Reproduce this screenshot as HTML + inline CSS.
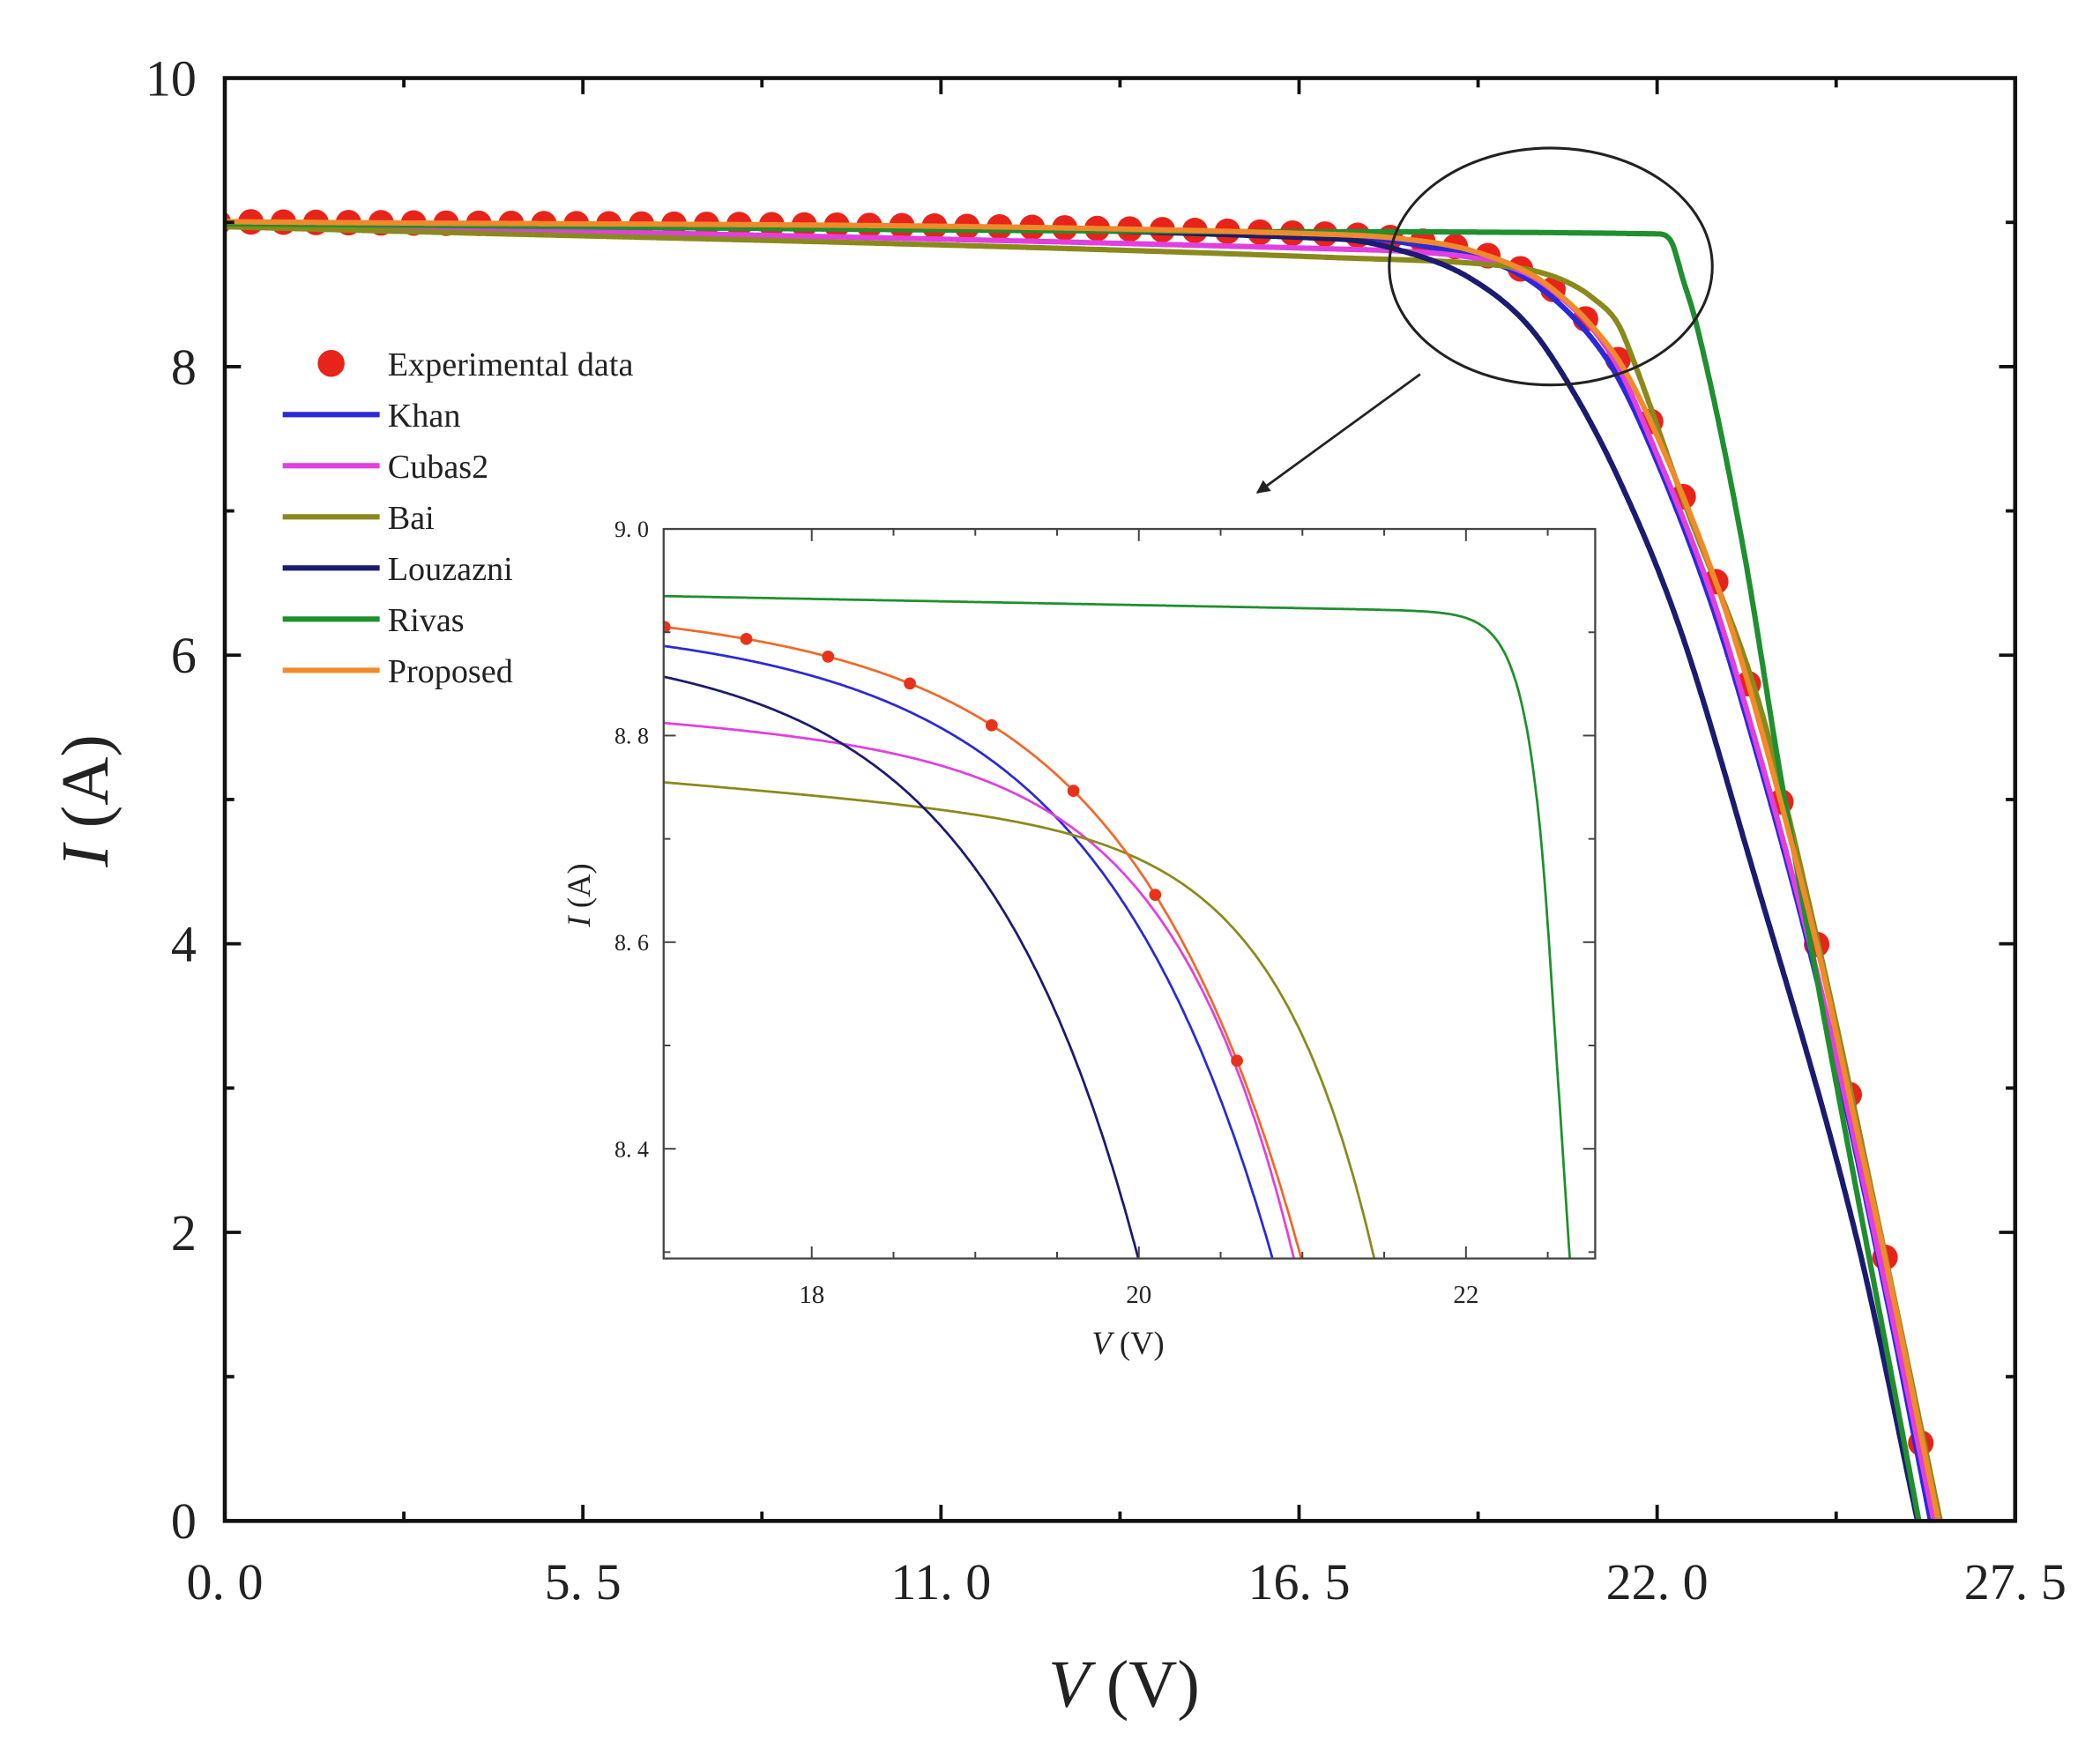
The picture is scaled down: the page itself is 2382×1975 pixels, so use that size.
<!DOCTYPE html>
<html><head><meta charset="utf-8"><style>
html,body{margin:0;padding:0;background:#fff;}
svg{display:block;}
text{font-family:"Liberation Serif","Noto Serif CJK SC",serif;fill:#222;}
</style></head><body>
<svg id="s" xmlns="http://www.w3.org/2000/svg" width="2382" height="1975" viewBox="0 0 1560 1293.5" preserveAspectRatio="none">
<defs>
<clipPath id="mc"><rect x="167" y="58" width="1330" height="1072"/></clipPath>
<clipPath id="ic"><rect x="493" y="393" width="692" height="542"/></clipPath>
<marker id="ah" markerWidth="10" markerHeight="10" refX="9" refY="5" orient="auto" markerUnits="userSpaceOnUse"><path d="M0,0 L10,5 L0,10 z" fill="#222"/></marker>
</defs>
<rect x="0" y="0" width="1560" height="1293.5" fill="#fff"/>
<g id="main" clip-path="url(#mc)"></g>
<g id="mticks" stroke="#111" stroke-width="2.5"></g>
<rect x="167" y="58" width="1330" height="1072" fill="none" stroke="#111" stroke-width="3"/>
<ellipse cx="1152" cy="198" rx="120" ry="88" fill="none" stroke="#222" stroke-width="2"/>
<line x1="1055" y1="278" x2="934" y2="366" stroke="#222" stroke-width="1.8" marker-end="url(#ah)"/>
<rect x="493" y="393" width="692" height="542" fill="#fff"/>
<g id="inset" clip-path="url(#ic)"></g>
<g id="iticks" stroke="#444" stroke-width="1.3"></g>
<rect x="493" y="393" width="692" height="542" fill="none" stroke="#444" stroke-width="1.5"/>
<g id="labels"></g>
<g id="legend"></g>
</svg>
<script>
var NS="http://www.w3.org/2000/svg";
function el(p,t,a,txt){var e=document.createElementNS(NS,t);for(var k in a)e.setAttribute(k,a[k]);if(txt!==undefined)e.textContent=txt;document.getElementById(p).appendChild(e);return e;}
function mono(pts){var n=pts.length,x=pts.map(function(p){return p[0]}),y=pts.map(function(p){return p[1]}),d=[],m=[];
 for(var i=0;i<n-1;i++)d.push((y[i+1]-y[i])/(x[i+1]-x[i]));
 m[0]=d[0];m[n-1]=d[n-2];for(var i=1;i<n-1;i++){m[i]=(d[i-1]*d[i]<=0)?0:(d[i-1]+d[i])/2;}
 for(var i=0;i<n-1;i++){if(d[i]==0){m[i]=m[i+1]=0;continue;}var a=m[i]/d[i],b=m[i+1]/d[i],s=a*a+b*b;if(s>9){var t=3/Math.sqrt(s);m[i]=t*a*d[i];m[i+1]=t*b*d[i];}}
 return function(v){if(v<=x[0])return y[0];if(v>=x[n-1])return y[n-1]+m[n-1]*(v-x[n-1]);var i=0;while(v>x[i+1])i++;
  var h=x[i+1]-x[i],t=(v-x[i])/h,t2=t*t,t3=t2*t;return (2*t3-3*t2+1)*y[i]+(t3-2*t2+t)*h*m[i]+(-2*t3+3*t2)*y[i+1]+(t3-t2)*h*m[i+1];};}
var C=[
 {n:"Khan",c:"#2a2ad8",I1:8.905,k:0.005,A:0.19,V1:19.6,m:1.07,s:1.8,
  K:[[0,9.0],[17.1,8.905],[18.1,8.86],[19.6,8.7],[20.1,8.58],[20.8,8.3],[21.3,8.0],[21.8,7.55],[22.8,6.4],[23.35,5.6],[24.4,3.85],[25.5,1.6],[26.2,0]]},
 {n:"Cubas2",c:"#e040e0",I1:8.815,k:0.01,A:0.08,V1:19.6,m:0.75,s:1.7,
  K:[[0,8.99],[17.1,8.815],[18.1,8.80],[19.1,8.76],[19.6,8.71],[20.1,8.62],[20.6,8.45],[20.95,8.295],[21.4,8.0],[21.85,7.55],[22.85,6.4],[23.35,5.66],[24.4,3.9],[25.5,1.65],[26.25,0]]},
 {n:"Bai",c:"#8a8a1c",I1:8.755,k:0.013,A:0.1,V1:20.6,m:0.6,s:1.85,
  K:[[0,8.97],[17.1,8.755],[19.6,8.70],[20.1,8.665],[20.6,8.59],[21.0,8.48],[21.4,8.295],[21.63,8.05],[22.39,7.09],[23.57,5.66],[24.5,3.95],[25.5,1.85],[26.35,0]]},
 {n:"Louzazni",c:"#1b1b70",I1:8.885,k:0.005,A:0.08,V1:18.1,m:0.96,s:1.45,
  K:[[0,9.0],[17.1,8.885],[18.1,8.80],[19.1,8.62],[20.0,8.295],[20.6,7.91],[21.36,7.27],[22.33,6.21],[23.4,4.62],[25.08,1.93],[26.0,0]]},
 {n:"Rivas",c:"#1f8f2f",I1:8.935,k:0.003,A:0.03,V1:22.2,m:0.13,s:2.4,
  K:[[0,8.99],[17.1,8.935],[22.0,8.92],[22.2,8.88],[22.4,8.6],[22.6,8.3],[23.3,6.8],[23.92,5.1],[26.02,0]]},
 {n:"Proposed",c:"#f08a2a",I1:8.92,k:0.005,A:0.1,V1:19.1,m:1.05,s:1.75,
  K:[[0,9.005],[17.1,8.915],[18.1,8.885],[19.1,8.81],[20.1,8.63],[20.6,8.46],[20.92,8.32],[21.44,8.02],[21.94,7.58],[22.97,6.42],[23.49,5.66],[24.5,3.9],[25.0,2.85],[25.55,1.72],[26.05,0.6],[26.32,0]]}
];
C.forEach(function(p){
 var e=(p.s-p.k)*p.m/p.A; p.Vt=p.V1+p.m*Math.log(e);
 p.f=function(V){return p.I1-p.k*(V-17.1)-p.A*Math.exp((V-p.V1)/p.m);};
 p.It=p.f(p.Vt); p.g=mono(p.K);
});
function I(p,V){return V<p.Vt?p.f(V):p.It-p.s*(V-p.Vt);}
var P=C[5];
function MX(V){return 167+V*48.364;} function MY(i){return 1130-i*107.2;}
function IX(V){return 603+(V-18)*121.5;} function IY(i){return 393+(9-i)*767.5;}
// main dots
var dv=[];for(var v=-0.1;v<=23.95;v+=0.5)dv.push(v);dv=dv.concat([24.45,24.95,25.5,26.05]);
dv.forEach(function(v){var i=v<=0?9.0:P.g(v);if(v>=26)i=0.54;el("main","circle",{cx:MX(v),cy:MY(i),r:9.5,fill:"#e8231a"});});
C.forEach(function(p){var d="";for(var v=0;v<=27;v+=0.02){var i=p.g(v);d+=(d?"L":"M")+MX(v).toFixed(1)+","+MY(i).toFixed(1);if(i<-0.2)break;}
 el("main","path",{d:d,fill:"none",stroke:p.c,"stroke-width":4});});
// inset
C.forEach(function(p){var d="";for(var v=17;v<=23;v+=0.005){var i=I(p,v);d+=(d?"L":"M")+IX(v).toFixed(1)+","+IY(i).toFixed(1);if(i<8.2)break;}
 el("inset","path",{d:d,fill:"none",stroke:p.n=="Proposed"?"#ee6a2a":p.c,"stroke-width":1.8});});
[17.1,17.6,18.1,18.6,19.1,19.6,20.1,20.6].forEach(function(v){el("inset","circle",{cx:IX(v),cy:IY(I(P,v)),r:4.5,fill:"#e8331a"});});
// main ticks
for(var j=0;j<=10;j++){var V=j*2.75,x=MX(V),L=j%2==0?12:7;
 el("mticks","line",{x1:x,y1:1130,x2:x,y2:1130-L});el("mticks","line",{x1:x,y1:58,x2:x,y2:58+L});}
for(var j=0;j<=10;j++){var y=MY(j),L=j%2==0?12:7;
 el("mticks","line",{x1:167,y1:y,x2:167+L,y2:y});el("mticks","line",{x1:1497,y1:y,x2:1497-L,y2:y});}
["0. 0","5. 5","11. 0","16. 5","22. 0","27. 5"].forEach(function(t,j){el("labels","text",{x:MX(j*5.5),y:1188,"font-size":38,"text-anchor":"middle"},t);});
[0,2,4,6,8,10].forEach(function(t){el("labels","text",{x:146,y:MY(t)+13,"font-size":38,"text-anchor":"end"},t);});
var t1=el("labels","text",{x:835,y:1268,"font-size":50,"text-anchor":"middle"});
t1.innerHTML='<tspan font-style="italic">V</tspan> (V)';
var t2=el("labels","text",{x:0,y:0,"font-size":50,"text-anchor":"middle",transform:"translate(80,595) rotate(-90)"});
t2.innerHTML='<tspan font-style="italic">I</tspan> (A)';
// inset ticks
for(var v=18;v<=22.6;v+=0.5){var x=IX(v),L=(Math.abs(v-Math.round(v))<0.01&&Math.round(v)%2==0)?9:5;
 el("iticks","line",{x1:x,y1:935,x2:x,y2:935-L});el("iticks","line",{x1:x,y1:393,x2:x,y2:393+L});}
for(var i=8.3;i<=9.001;i+=0.1){var y=IY(i),L=(Math.round(i*10)%2==0)?9:5;
 el("iticks","line",{x1:493,y1:y,x2:493+L,y2:y});el("iticks","line",{x1:1185,y1:y,x2:1185-L,y2:y});}
[["9. 0",9],["8. 8",8.8],["8. 6",8.6],["8. 4",8.4]].forEach(function(a){el("labels","text",{x:482,y:IY(a[1])+6,"font-size":17,"text-anchor":"end",fill:"#555"},a[0]);});
[18,20,22].forEach(function(v){el("labels","text",{x:IX(v),y:968,"font-size":19,"text-anchor":"middle",fill:"#555"},v);});
var t3=el("labels","text",{x:838,y:1006,"font-size":24,"text-anchor":"middle",fill:"#444"});t3.innerHTML='<tspan font-style="italic">V</tspan> (V)';
var t4=el("labels","text",{x:0,y:0,"font-size":24,"text-anchor":"middle",fill:"#444",transform:"translate(438,665) rotate(-90)"});t4.innerHTML='<tspan font-style="italic">I</tspan> (A)';
// legend
el("legend","circle",{cx:246,cy:270,r:10,fill:"#e8231a"});
el("legend","text",{x:288,y:279,"font-size":25},"Experimental data");
C.forEach(function(p,k){var y=308+k*38;el("legend","line",{x1:210,y1:y,x2:282,y2:y,stroke:p.c,"stroke-width":4});
 el("legend","text",{x:288,y:y+9,"font-size":25},p.n);});
</script>
</body></html>
